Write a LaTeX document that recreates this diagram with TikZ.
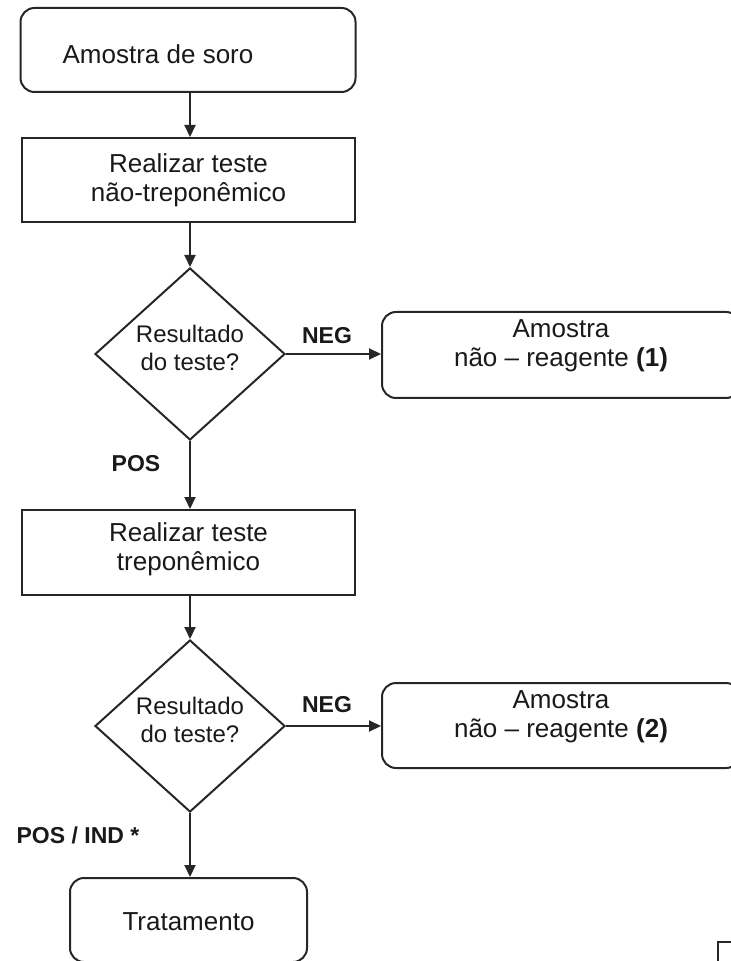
\documentclass[tikz,border=0pt]{standalone}
\usepackage{fontspec}
\setmainfont{Liberation Sans}
\usetikzlibrary{shapes.geometric,arrows.meta}
\tikzset{
  boxline/.style={draw=black!85, line width=1pt, inner sep=0pt},
  rbox/.style={boxline, rounded corners=7pt},
  sbox/.style={boxline},
  txt/.style={font=\fontsize{13}{14.5}\selectfont, align=center, text=black!90},
  dtxt/.style={font=\fontsize{12}{14}\selectfont, align=center, text=black!90},
  dec/.style={diamond, draw=black!85, line width=1pt, inner sep=0pt, aspect=1.1,
              minimum width=95pt, minimum height=86pt},
  lbl/.style={font=\bfseries\fontsize{11.5}{13}\selectfont, text=black!90},
  arr/.style={line width=1pt, draw=black!85, -{Triangle[length=6pt,width=5.5pt]}}
}
\begin{document}
\begin{tikzpicture}[x=0.5pt,y=-0.5pt]
\useasboundingbox (0,0) rectangle (731,961);
\clip (0,0) rectangle (731,961);
% nodes
\node[rbox, minimum width=167.5pt, minimum height=42pt,
      label={[txt, xshift=-15pt, yshift=-2pt]center:Amostra de soro}] (b1) at (188,50) {};
\node[sbox, minimum width=166.5pt, minimum height=42pt,
      label={[txt, yshift=0pt]center:Realizar teste\\não-treponêmico}] (b2) at (188.5,180) {};
\node[dec, label={[dtxt, yshift=3pt]center:Resultado\\do teste?}] (d1) at (190,354) {};
\node[rbox, minimum width=179pt, minimum height=43pt,
      label={[txt, yshift=4.5pt]center:Amostra\\não – reagente \textbf{(1)}}] (r1) at (561,355) {};
\node[sbox, minimum width=166.5pt, minimum height=42.5pt,
      label={[txt, yshift=1.5pt]center:Realizar teste\\treponêmico}] (b3) at (188.5,552.5) {};
\node[dec, label={[dtxt, yshift=3pt]center:Resultado\\do teste?}] (d2) at (190,726) {};
\node[rbox, minimum width=179pt, minimum height=42.5pt,
      label={[txt, yshift=4.5pt]center:Amostra\\não – reagente \textbf{(2)}}] (r2) at (561,725.5) {};
\node[rbox, minimum width=118.5pt, minimum height=42pt,
      label={[txt, yshift=-1pt]center:Tratamento}] (b4) at (188.5,920) {};
% labels
\node[lbl] (neg1) at (327,336) {NEG};
\node[lbl] (pos1) at (136,464) {POS};
\node[lbl] (neg2) at (327,705) {NEG};
\node[lbl] (pos2) at (78,835) {POS / IND *};
% connectors
\draw[arr] (b1.south -| d1.north) -- (b2.north -| d1.north);
\draw[arr] (b2.south -| d1.north) -- (d1.north);
\draw[arr] (d1.east) -- (r1.west |- d1.east);
\draw[arr] (d1.south) -- (b3.north -| d1.south);
\draw[arr] (b3.south -| d2.north) -- (d2.north);
\draw[arr] (d2.east) -- (r2.west |- d2.east);
\draw[arr] (d2.south) -- (b4.north -| d2.south);
% corner fragment bottom right
\coordinate (c1) at (718,975);
\coordinate (c2) at (718,942);
\coordinate (c3) at (745,942);
\draw[line width=1pt, draw=black!85] (c1) -- (c2) -- (c3);
\end{tikzpicture}
\end{document}
